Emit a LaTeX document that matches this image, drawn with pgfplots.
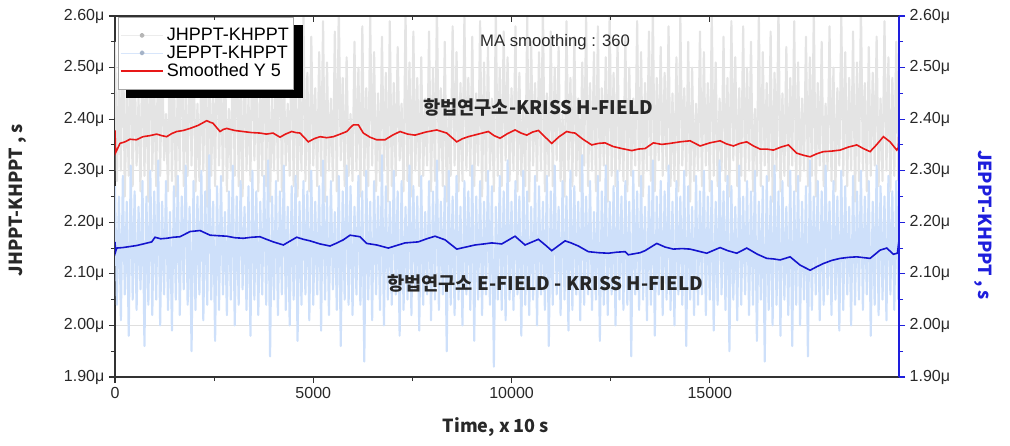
\documentclass[border=0pt]{standalone}
\usepackage{pgfplots}
\pgfplotsset{compat=1.18}
\usepackage{pgfplotstable}
\usepackage{fontspec}
\setmainfont{Liberation Sans}
\newfontfamily\kr{Noto Sans CJK KR}
\definecolor{grayband}{RGB}{228,228,228}
\definecolor{blueband}{RGB}{206,224,250}
\definecolor{redline}{RGB}{232,24,24}
\definecolor{blueline}{RGB}{20,20,205}
\definecolor{axcol}{RGB}{50,50,50}
\definecolor{raxis}{RGB}{30,30,220}
\definecolor{txt}{RGB}{40,40,40}

% JHPPT-KHPPT raw (one value every 49.5 time units)
\pgfplotstableread[row sep=\\]{y\\
2.55\\2.28\\2.49\\2.30\\2.60\\2.25\\2.46\\2.29\\2.57\\2.27\\2.52\\2.31\\2.44\\2.26\\2.58\\2.29\\2.50\\2.24\\2.62\\2.30\\
2.47\\2.27\\2.56\\2.29\\2.53\\2.32\\2.41\\2.26\\2.59\\2.28\\2.51\\2.25\\2.48\\2.30\\2.61\\2.27\\2.45\\2.29\\2.54\\2.31\\
2.58\\2.26\\2.43\\2.28\\2.50\\2.30\\2.57\\2.23\\2.52\\2.29\\2.46\\2.27\\2.60\\2.31\\2.49\\2.28\\2.55\\2.26\\2.42\\2.30\\
2.53\\2.29\\2.61\\2.27\\2.47\\2.25\\2.56\\2.30\\2.44\\2.28\\2.59\\2.32\\2.51\\2.26\\2.48\\2.29\\2.57\\2.27\\2.54\\2.24\\
2.45\\2.30\\2.52\\2.28\\2.62\\2.26\\2.50\\2.31\\2.43\\2.29\\2.58\\2.27\\2.55\\2.25\\2.47\\2.30\\2.60\\2.28\\2.49\\2.26\\
2.56\\2.31\\2.46\\2.27\\2.53\\2.29\\2.59\\2.24\\2.51\\2.30\\2.44\\2.28\\2.57\\2.26\\2.62\\2.32\\2.48\\2.27\\2.52\\2.29\\
2.41\\2.28\\2.55\\2.30\\2.50\\2.25\\2.58\\2.29\\2.46\\2.27\\2.60\\2.31\\2.53\\2.26\\2.45\\2.28\\2.56\\2.30\\2.49\\2.24\\
2.59\\2.27\\2.47\\2.29\\2.54\\2.32\\2.43\\2.26\\2.61\\2.28\\2.51\\2.25\\2.57\\2.30\\2.48\\2.27\\2.52\\2.29\\2.44\\2.31\\
2.57\\2.26\\2.50\\2.28\\2.62\\2.30\\2.46\\2.27\\2.55\\2.24\\2.42\\2.29\\2.58\\2.31\\2.53\\2.26\\2.47\\2.28\\2.60\\2.30\\
2.48\\2.29\\2.56\\2.27\\2.45\\2.31\\2.59\\2.25\\2.51\\2.28\\2.54\\2.30\\2.44\\2.26\\2.61\\2.29\\2.50\\2.27\\2.57\\2.32\\
2.52\\2.28\\2.46\\2.30\\2.58\\2.26\\2.49\\2.29\\2.43\\2.27\\2.60\\2.24\\2.55\\2.31\\2.47\\2.28\\2.53\\2.30\\2.62\\2.26\\
2.45\\2.29\\2.57\\2.27\\2.50\\2.32\\2.54\\2.28\\2.41\\2.25\\2.59\\2.30\\2.48\\2.27\\2.56\\2.29\\2.44\\2.26\\2.51\\2.31\\
2.60\\2.27\\2.47\\2.30\\2.53\\2.26\\2.58\\2.28\\2.46\\2.31\\2.52\\2.24\\2.61\\2.29\\2.49\\2.27\\2.55\\2.30\\2.43\\2.28\\
2.56\\2.26\\2.50\\2.29\\2.44\\2.31\\2.59\\2.27\\2.53\\2.25\\2.47\\2.30\\2.57\\2.28\\2.62\\2.26\\2.48\\2.32\\2.54\\2.29\\
2.49\\2.30\\2.58\\2.27\\2.45\\2.28\\2.52\\2.26\\2.60\\2.31\\2.46\\2.29\\2.55\\2.24\\2.50\\2.28\\2.43\\2.30\\2.57\\2.27\\
2.53\\2.31\\2.47\\2.26\\2.61\\2.29\\2.51\\2.27\\2.44\\2.30\\2.56\\2.28\\2.48\\2.25\\2.59\\2.32\\2.52\\2.27\\2.46\\2.29\\
2.58\\2.28\\2.50\\2.30\\2.55\\2.26\\2.42\\2.29\\2.60\\2.27\\2.53\\2.31\\2.47\\2.28\\2.57\\2.24\\2.49\\2.30\\2.62\\2.26\\
2.45\\2.29\\2.54\\2.27\\2.48\\2.31\\2.59\\2.26\\2.51\\2.28\\2.44\\2.30\\2.56\\2.27\\2.52\\2.29\\2.61\\2.25\\2.47\\2.31\\
2.55\\2.27\\2.43\\2.30\\2.58\\2.28\\2.50\\2.26\\2.46\\2.31\\2.60\\2.29\\2.53\\2.27\\2.48\\2.30\\2.57\\2.24\\2.51\\2.28\\
2.62\\2.30\\2.47\\2.26\\2.54\\2.29\\2.49\\2.31\\2.56\\2.27\\2.44\\2.28\\2.59\\2.30\\2.52\\2.26\\2.48\\2.29\\2.55\\2.28\\
}\hdata

% JEPPT-KHPPT raw
\pgfplotstableread[row sep=\\]{y\\
2.27\\2.04\\2.25\\2.01\\2.29\\2.06\\2.24\\1.98\\2.31\\2.05\\2.26\\2.03\\2.23\\2.07\\2.28\\1.96\\2.25\\2.04\\2.30\\2.02\\
2.26\\2.05\\2.32\\2.00\\2.24\\2.06\\2.28\\2.03\\2.22\\1.99\\2.27\\2.05\\2.29\\2.02\\2.25\\2.07\\2.31\\2.04\\2.23\\1.95\\
2.28\\2.03\\2.25\\2.06\\2.30\\2.01\\2.26\\2.04\\2.33\\2.05\\2.24\\1.97\\2.27\\2.03\\2.29\\2.06\\2.22\\2.02\\2.26\\2.05\\
2.31\\2.00\\2.25\\2.04\\2.28\\2.07\\2.23\\2.03\\2.27\\1.98\\2.30\\2.05\\2.26\\2.02\\2.24\\2.06\\2.29\\2.04\\2.32\\1.94\\
2.25\\2.05\\2.28\\2.02\\2.26\\2.06\\2.31\\2.03\\2.23\\2.00\\2.27\\2.05\\2.29\\1.97\\2.24\\2.04\\2.28\\2.06\\2.26\\2.01\\
2.30\\2.04\\2.24\\2.06\\2.27\\1.99\\2.32\\2.05\\2.25\\2.02\\2.28\\2.07\\2.22\\2.03\\2.29\\1.96\\2.26\\2.05\\2.31\\2.04\\
2.27\\2.02\\2.23\\2.06\\2.29\\2.04\\2.26\\1.93\\2.30\\2.05\\2.24\\2.01\\2.28\\2.06\\2.25\\2.03\\2.33\\2.00\\2.27\\2.05\\
2.24\\2.04\\2.30\\2.06\\2.26\\1.98\\2.28\\2.03\\2.23\\2.05\\2.31\\2.02\\2.27\\2.07\\2.25\\1.99\\2.29\\2.04\\2.22\\2.06\\
2.28\\2.01\\2.26\\2.05\\2.32\\2.03\\2.24\\2.06\\2.27\\1.95\\2.30\\2.04\\2.25\\2.02\\2.29\\2.05\\2.23\\2.00\\2.28\\2.06\\
2.26\\2.03\\2.31\\1.97\\2.25\\2.05\\2.28\\2.02\\2.24\\2.06\\2.30\\2.04\\2.27\\1.92\\2.23\\2.05\\2.29\\2.03\\2.26\\2.01\\
2.32\\2.05\\2.24\\2.03\\2.28\\2.06\\2.25\\1.98\\2.30\\2.04\\2.26\\2.02\\2.23\\2.05\\2.29\\2.00\\2.27\\2.06\\2.24\\2.03\\
2.29\\1.96\\2.26\\2.04\\2.31\\2.06\\2.23\\2.02\\2.28\\2.05\\2.25\\1.99\\2.30\\2.03\\2.27\\2.06\\2.24\\2.01\\2.33\\2.04\\
2.25\\2.06\\2.28\\2.03\\2.22\\2.05\\2.29\\1.97\\2.26\\2.04\\2.31\\2.02\\2.24\\2.06\\2.27\\2.00\\2.30\\2.05\\2.25\\2.03\\
2.28\\2.04\\2.24\\1.94\\2.30\\2.06\\2.26\\2.03\\2.29\\2.05\\2.23\\2.01\\2.27\\2.04\\2.32\\1.98\\2.25\\2.06\\2.28\\2.02\\
2.26\\2.05\\2.31\\2.03\\2.24\\2.00\\2.28\\2.06\\2.25\\2.04\\2.30\\1.96\\2.27\\2.05\\2.23\\2.02\\2.29\\2.04\\2.26\\2.06\\
2.30\\2.02\\2.25\\2.05\\2.28\\1.99\\2.24\\2.04\\2.32\\2.06\\2.26\\2.03\\2.29\\1.95\\2.27\\2.05\\2.23\\2.01\\2.31\\2.04\\
2.25\\2.06\\2.28\\2.02\\2.26\\2.04\\2.30\\1.97\\2.24\\2.05\\2.27\\1.93\\2.29\\2.03\\2.25\\2.00\\2.31\\2.04\\2.26\\1.98\\
2.28\\2.05\\2.23\\2.02\\2.30\\1.96\\2.26\\2.04\\2.29\\2.00\\2.24\\2.05\\2.27\\1.94\\2.32\\2.03\\2.25\\2.06\\2.28\\2.01\\
2.26\\2.04\\2.31\\2.06\\2.24\\2.02\\2.28\\2.05\\2.25\\1.99\\2.30\\2.03\\2.27\\2.06\\2.23\\2.00\\2.29\\2.04\\2.26\\2.05\\
2.30\\2.03\\2.25\\2.06\\2.28\\1.98\\2.24\\2.04\\2.31\\2.02\\2.27\\2.05\\2.25\\2.01\\2.29\\2.06\\2.26\\2.03\\2.28\\2.05\\
}\edata

\begin{document}
\begin{tikzpicture}
\useasboundingbox (-86.25pt,-51.75pt) rectangle (671.25pt,282.75pt);
\begin{axis}[
  scale only axis, width=588pt, height=270.75pt,
  xmin=0, xmax=19770, ymin=1.9, ymax=2.6,
  clip mode=individual,
  axis x line*=bottom, axis y line*=left,
  axis line style={draw=axcol, line width=0.9pt},
  tick align=outside,
  tick style={draw=axcol, line width=0.8pt},
  major tick length=4.5pt, minor tick length=3pt,
  xtick={0,5000,10000,15000}, minor x tick num=1,
  ytick={1.9,2,2.1,2.2,2.3,2.4,2.5,2.6}, minor y tick num=1,
  scaled x ticks=false, scaled y ticks=false,
  /pgf/number format/assume math mode=true,
  xticklabel={\pgfmathprintnumber[fixed,precision=0,set thousands separator={}]{\tick}},
  yticklabel={\pgfmathprintnumber[fixed,fixed zerofill,precision=2]{\tick}μ},
  tick label style={font=\fontsize{12pt}{14pt}\selectfont, text=txt},
  ymajorgrids, major grid style={draw=gray!25, line width=0.6pt},
  xlabel={\kr\bfseries Time, x 10 s},
  ylabel={\kr\bfseries JHPPT-KHPPT , s},
  xlabel style={at={(axis description cs:0.486,-0.1385)}, anchor=center, text=txt, font=\fontsize{13.5pt}{16pt}\selectfont},
  ylabel style={at={(axis description cs:-0.1237,0.49)}, anchor=center, text=txt, font=\fontsize{13.5pt}{16pt}\selectfont},
  legend cell align=left,
  legend style={at={(axis description cs:0.004,0.997)}, anchor=north west,
    draw=gray!70, fill=white, line width=0.6pt,
    font=\fontsize{13.5pt}{15pt}\selectfont,
    inner xsep=1pt, inner ysep=8pt, row sep=2.4pt,
    nodes={inner xsep=2pt, inner ysep=0pt}},
]
\addplot[grayband, line width=1.6pt, line join=round, no marks,
  legend image code/.code={\draw[grayband!70, line width=0.5pt] (0pt,0pt) -- (32pt,0pt); \fill[grayband!80!black] (16pt,0pt) circle (1.1pt);}]
  table[x expr=\coordindex*49.5, y=y] {\hdata};
\addlegendentry{JHPPT-KHPPT}
\addplot[blueband, line width=1.6pt, line join=round, no marks,
  legend image code/.code={\draw[blueband!80, line width=0.5pt] (0pt,0pt) -- (32pt,0pt); \fill[blueband!80!black] (16pt,0pt) circle (1.1pt);}]
  table[x expr=\coordindex*49.5, y=y] {\edata};
\addlegendentry{JEPPT-KHPPT}
\addplot[redline, line width=1.2pt, no marks,
  legend image code/.code={\draw[draw=redline, line width=1.3pt] (0pt,0pt) -- (32pt,0pt);}] coordinates {
(0,2.378)(15,2.335)(60,2.342)(126,2.353)(250,2.356)(378,2.361)(540,2.360)(706,2.366)(880,2.368)(1052,2.371)
(1180,2.368)(1304,2.366)(1430,2.372)(1556,2.376)(1720,2.378)(1892,2.382)(2100,2.388)(2313,2.397)(2400,2.394)(2472,2.392)
(2560,2.384)(2648,2.376)(2730,2.380)(2817,2.382)(3020,2.378)(3228,2.376)(3440,2.374)(3657,2.373)(3820,2.371)(3985,2.373)
(4161,2.365)(4300,2.371)(4456,2.376)(4560,2.374)(4666,2.373)(4875,2.356)(5020,2.362)(5170,2.366)(5340,2.364)(5506,2.366)
(5680,2.371)(5843,2.376)(5930,2.383)(6010,2.389)(6136,2.389)(6262,2.373)(6430,2.365)(6600,2.360)(6809,2.360)(7000,2.369)
(7188,2.376)(7380,2.371)(7566,2.369)(7840,2.375)(8113,2.379)(8240,2.376)(8365,2.373)(8618,2.356)(8760,2.362)(8910,2.366)
(9160,2.371)(9415,2.376)(9560,2.368)(9710,2.363)(9900,2.372)(10088,2.379)(10240,2.373)(10383,2.369)(10530,2.375)(10676,2.378)
(10850,2.365)(11013,2.353)(11200,2.366)(11391,2.376)(11500,2.374)(11601,2.373)(11800,2.361)(12022,2.350)(12190,2.353)(12358,2.354)
(12560,2.347)(12779,2.343)(13031,2.339)(13200,2.342)(13367,2.343)(13576,2.354)(13790,2.351)(13997,2.353)(14250,2.356)(14502,2.358)
(14754,2.348)(15000,2.354)(15258,2.358)(15420,2.352)(15593,2.348)(15760,2.353)(15931,2.356)(16100,2.348)(16267,2.342)(16430,2.342)
(16602,2.340)(16800,2.346)(16981,2.350)(17192,2.334)(17360,2.330)(17528,2.327)(17700,2.333)(17863,2.337)(18070,2.338)(18285,2.340)
(18500,2.346)(18706,2.350)(18870,2.343)(19041,2.337)(19200,2.350)(19377,2.366)(19545,2.356)(19714,2.340)(19755,2.345)(19768,2.372)
};
\addlegendentry{Smoothed Y 5}
\addplot[blueline, line width=1.2pt, no marks, forget plot] coordinates {
(0,2.162)(15,2.143)(43,2.150)(200,2.151)(378,2.153)(550,2.155)(714,2.158)(926,2.162)(1009,2.171)(1150,2.168)
(1304,2.169)(1470,2.171)(1639,2.172)(1892,2.182)(2144,2.184)(2396,2.175)(2600,2.174)(2817,2.173)(3030,2.170)(3236,2.169)
(3450,2.171)(3657,2.172)(3820,2.167)(3992,2.162)(4245,2.156)(4582,2.171)(4750,2.167)(4918,2.164)(5170,2.158)(5422,2.154)
(5600,2.160)(5758,2.166)(5927,2.175)(6179,2.172)(6348,2.159)(6600,2.156)(6893,2.150)(7100,2.155)(7314,2.160)(7480,2.161)
(7649,2.162)(7860,2.168)(8070,2.173)(8323,2.166)(8618,2.148)(8850,2.152)(9079,2.156)(9300,2.158)(9500,2.160)(9752,2.158)
(10088,2.173)(10340,2.156)(10676,2.167)(10850,2.156)(11013,2.145)(11349,2.164)(11500,2.160)(11684,2.154)(11937,2.143)(12200,2.141)
(12441,2.140)(12650,2.142)(12862,2.143)(12946,2.137)(13241,2.141)(13367,2.145)(13662,2.159)(13870,2.152)(14080,2.148)(14300,2.149)
(14502,2.148)(14922,2.140)(15258,2.151)(15450,2.145)(15679,2.140)(15931,2.150)(16200,2.138)(16436,2.130)(16600,2.129)(16771,2.127)
(17024,2.133)(17276,2.117)(17528,2.107)(17700,2.114)(17863,2.120)(18070,2.126)(18285,2.130)(18500,2.132)(18706,2.133)(19041,2.130)
(19293,2.146)(19461,2.150)(19629,2.138)(19730,2.140)(19765,2.162)
};
% legend drop shadow (drawn before the legend, which is placed on top)
\fill[black] (axis description cs:0.014,0.772) rectangle (axis description cs:0.2398,0.975);
\node[font=\fontsize{12.5pt}{15pt}\selectfont, text=txt] at (axis cs:11097,2.5496) {MA smoothing : 360};
\node[font=\kr\bfseries\fontsize{14pt}{16pt}\selectfont, text=black!85] at (axis cs:10668,2.4236) {항법연구소-KRISS H-FIELD};
\node[font=\kr\bfseries\fontsize{14pt}{16pt}\selectfont, text=black!85] at (axis cs:10845,2.0823) {항법연구소 E-FIELD - KRISS H-FIELD};
\end{axis}
% top axis: inward ticks
\begin{axis}[
  scale only axis, width=588pt, height=270.75pt,
  xmin=0, xmax=19770, ymin=1.9, ymax=2.6,
  axis x line*=top, axis y line=none,
  axis line style={draw=axcol, line width=0.9pt},
  tick align=inside, tick style={draw=axcol, line width=0.8pt},
  major tick length=4.5pt, minor tick length=3pt,
  xtick={0,5000,10000,15000}, minor x tick num=1, xticklabels={},
]
\end{axis}
% right axis
\begin{axis}[
  scale only axis, width=588pt, height=270.75pt,
  xmin=0, xmax=19770, ymin=1.9, ymax=2.6,
  clip mode=individual,
  axis y line*=right, axis x line=none,
  axis line style={draw=raxis, line width=1pt},
  tick align=outside, tick style={draw=raxis, line width=0.8pt},
  major tick length=4.5pt, minor tick length=3pt,
  ytick={1.9,2,2.1,2.2,2.3,2.4,2.5,2.6}, minor y tick num=1,
  scaled y ticks=false,
  /pgf/number format/assume math mode=true,
  yticklabel={\pgfmathprintnumber[fixed,fixed zerofill,precision=2]{\tick}μ},
  tick label style={font=\fontsize{12pt}{14pt}\selectfont, text=txt},
]
\node[rotate=-90, font=\kr\bfseries\fontsize{13.5pt}{16pt}\selectfont, text=raxis] at (axis description cs:1.107,0.421) {JEPPT-KHPPT , s};
\end{axis}
\end{tikzpicture}
\end{document}
